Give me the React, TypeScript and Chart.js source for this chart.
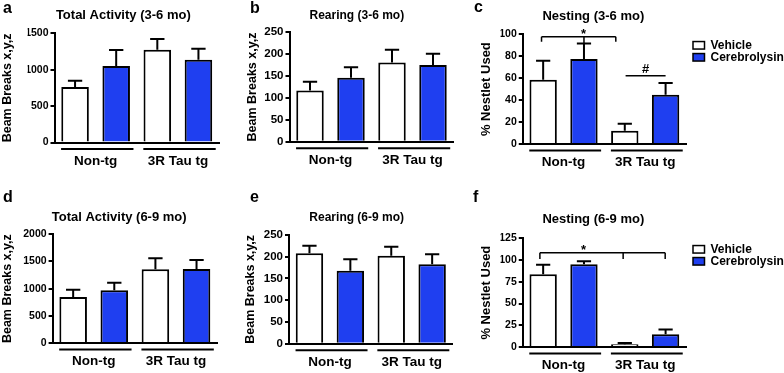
import React, { useEffect, useRef } from 'react';
import { Chart, registerables } from 'chart.js';

Chart.register(...registerables);

const FONT = "'Liberation Sans', Arial, Helvetica, sans-serif";
const BLUE = '#1f3ff0';

// ---------- data ----------
const groups = ['Non-tg', '3R Tau tg'];
const treatments = ['Vehicle', 'Cerebrolysin'];

// a: Total Activity (3-6 mo)
const activity36Vehicle = [761, 1275];
const activity36VehicleSem = [88, 147];
const activity36Cerebrolysin = [1050, 1138];
const activity36CerebrolysinSem = [221, 151];
const activity36Ticks = [0, 500, 1000, 1500];

// b: Rearing (3-6 mo)
const rearing36Vehicle = [117, 181];
const rearing36VehicleSem = [20, 29];
const rearing36Cerebrolysin = [146, 175];
const rearing36CerebrolysinSem = [24, 26];
const rearing36Ticks = [0, 50, 100, 150, 200, 250];

// c: Nesting (3-6 mo)
const nesting36Vehicle = [58.5, 12];
const nesting36VehicleSem = [17.5, 6.5];
const nesting36Cerebrolysin = [77.5, 45];
const nesting36CerebrolysinSem = [14, 10.7];
const nesting36Ticks = [0, 20, 40, 60, 80, 100];
const nesting36Marks = [
  { label: '*', level: 97.8, at: [-0.27, 0.25, 0.64], drops: [93.3, 91.4, 93.3], labelAt: 0.245 },
  { label: '#', level: 62.3, at: [0.76, 1.25], drops: [62.3, 62.3], labelAt: 1.005 },
];

// d: Total Activity (6-9 mo)
const activity69Vehicle = [847, 1356];
const activity69VehicleSem = [135, 202];
const activity69Cerebrolysin = [969, 1362];
const activity69CerebrolysinSem = [141, 166];
const activity69Ticks = [0, 500, 1000, 1500, 2000];

// e: Rearing (6-9 mo)
const rearing69Vehicle = [208, 202];
const rearing69VehicleSem = [17, 21];
const rearing69Cerebrolysin = [168, 182.5];
const rearing69CerebrolysinSem = [26, 23];
const rearing69Ticks = [0, 50, 100, 150, 200, 250];

// f: Nesting (6-9 mo)
const nesting69Vehicle = [83.6, 3.1];
const nesting69VehicleSem = [11, 1.5];
const nesting69Cerebrolysin = [95.1, 14.6];
const nesting69CerebrolysinSem = [3.5, 5.5];
const nesting69Ticks = [0, 25, 50, 75, 100, 125];
const nesting69Marks = [
  { label: '*', level: 108.4, at: [-0.29, 0.73, 1.245], drops: [101.2, 101.2, 101.2], labelAt: 0.245 },
];

// ---------- layout of the six panels ----------
type Mark = { label: string; level: number; at: number[]; drops: number[]; labelAt: number };
type PanelCfg = {
  letter: string; letterX: number; letterY: number;
  left: number; top: number; width: number; height: number;
  title: string; titleSize: number; titlePadTop: number; titlePadBottom: number;
  pl: number; pr: number; yWidth: number; xHeight: number;
  yTitle: string; yTitleSize: number; yTitlePad: number; yTickSize: number;
  ticks: number[];
  vehicle: number[]; vehicleSem: number[]; cerebrolysin: number[]; cerebrolysinSem: number[];
  marks?: Mark[]; legend?: boolean;
};

const panels: PanelCfg[] = [
  {
    letter: 'a', letterX: 3, letterY: 13, left: 0, top: 0, width: 240, height: 185,
    title: 'Total Activity (3-6 mo)', titleSize: 13, titlePadTop: 7.4, titlePadBottom: 10.3,
    pl: 27.6, pr: 21, yWidth: 26.9, xHeight: 42.5,
    yTitle: 'Beam Breaks x,y,z', yTitleSize: 12.5, yTitlePad: -27.1, yTickSize: 10.5,
    ticks: activity36Ticks,
    vehicle: activity36Vehicle, vehicleSem: activity36VehicleSem,
    cerebrolysin: activity36Cerebrolysin, cerebrolysinSem: activity36CerebrolysinSem,
  },
  {
    letter: 'b', letterX: 10, letterY: 13.3, left: 240, top: 0, width: 230, height: 185,
    title: 'Rearing (3-6 mo)', titleSize: 12, titlePadTop: 8.8, titlePadBottom: 9.1,
    pl: 20.1, pr: 16.5, yWidth: 29.4, xHeight: 43.3,
    yTitle: 'Beam Breaks x,y,z', yTitleSize: 12.5, yTitlePad: -15.3, yTickSize: 11.5,
    ticks: rearing36Ticks,
    vehicle: rearing36Vehicle, vehicleSem: rearing36VehicleSem,
    cerebrolysin: rearing36Cerebrolysin, cerebrolysinSem: rearing36CerebrolysinSem,
  },
  {
    letter: 'c', letterX: 4, letterY: 11.7, left: 470, top: 0, width: 314, height: 185,
    title: 'Nesting (3-6 mo)', titleSize: 13, titlePadTop: 9, titlePadBottom: 9.7,
    pl: 30.6, pr: 98, yWidth: 22.15, xHeight: 41,
    yTitle: '% Nestlet Used', yTitleSize: 13, yTitlePad: -21.7, yTickSize: 10.5,
    ticks: nesting36Ticks,
    vehicle: nesting36Vehicle, vehicleSem: nesting36VehicleSem,
    cerebrolysin: nesting36Cerebrolysin, cerebrolysinSem: nesting36CerebrolysinSem,
    marks: nesting36Marks, legend: true,
  },
  {
    letter: 'd', letterX: 3, letterY: 16.7, left: 0, top: 185, width: 240, height: 188,
    title: 'Total Activity (6-9 mo)', titleSize: 13, titlePadTop: 24.5, titlePadBottom: 9.2,
    pl: 21.3, pr: 22.9, yWidth: 31.3, xHeight: 30,
    yTitle: 'Beam Breaks x,y,z', yTitleSize: 12.5, yTitlePad: -20.8, yTickSize: 10.5,
    ticks: activity69Ticks,
    vehicle: activity69Vehicle, vehicleSem: activity69VehicleSem,
    cerebrolysin: activity69Cerebrolysin, cerebrolysinSem: activity69CerebrolysinSem,
  },
  {
    letter: 'e', letterX: 10, letterY: 17.3, left: 240, top: 185, width: 230, height: 188,
    title: 'Rearing (6-9 mo)', titleSize: 12, titlePadTop: 25.4, titlePadBottom: 10.2,
    pl: 20.8, pr: 17.4, yWidth: 28.2, xHeight: 29.3,
    yTitle: 'Beam Breaks x,y,z', yTitleSize: 12.5, yTitlePad: -17.5, yTickSize: 11.5,
    ticks: rearing69Ticks,
    vehicle: rearing69Vehicle, vehicleSem: rearing69VehicleSem,
    cerebrolysin: rearing69Cerebrolysin, cerebrolysinSem: rearing69CerebrolysinSem,
  },
  {
    letter: 'f', letterX: 3, letterY: 16.7, left: 470, top: 185, width: 314, height: 188,
    title: 'Nesting (6-9 mo)', titleSize: 13, titlePadTop: 27.1, titlePadBottom: 10.6,
    pl: 30.6, pr: 98, yWidth: 22.15, xHeight: 26,
    yTitle: '% Nestlet Used', yTitleSize: 13, yTitlePad: -21.7, yTickSize: 10.5,
    ticks: nesting69Ticks,
    vehicle: nesting69Vehicle, vehicleSem: nesting69VehicleSem,
    cerebrolysin: nesting69Cerebrolysin, cerebrolysinSem: nesting69CerebrolysinSem,
    marks: nesting69Marks, legend: true,
  },
];

function makeDecor(cfg: PanelCfg) {
  return {
    id: 'panelDecor',
    afterDatasetsDraw(chart: any) {
      const { ctx } = chart;
      const ys = chart.scales.y;
      ctx.save();
      ctx.strokeStyle = '#000';
      ctx.lineWidth = 2;
      chart.data.datasets.forEach((ds: any, i: number) => {
        const meta = chart.getDatasetMeta(i);
        meta.data.forEach((bar: any, j: number) => {
          const { x, y, width } = bar.getProps(['x', 'y', 'width'], true);
          const top = ys.getPixelForValue(ds.data[j] + ds.sem[j]);
          const half = width * 0.26;
          ctx.beginPath();
          ctx.moveTo(x, y);
          ctx.lineTo(x, top);
          ctx.moveTo(x - half, top);
          ctx.lineTo(x + half, top);
          ctx.stroke();
        });
      });
      ctx.restore();
    },
    afterDraw(chart: any) {
      const { ctx, chartArea: ca } = chart;
      const xs = chart.scales.x;
      const ys = chart.scales.y;
      ctx.save();
      // panel letter
      ctx.fillStyle = '#000';
      ctx.font = `bold 16px ${FONT}`;
      ctx.textAlign = 'left';
      ctx.textBaseline = 'alphabetic';
      ctx.fillText(cfg.letter, cfg.letterX, cfg.letterY);
      // group underlines
      ctx.strokeStyle = '#000';
      ctx.lineWidth = 2;
      const gy = ca.bottom + 6.5;
      groups.forEach((_, i) => {
        ctx.beginPath();
        ctx.moveTo(xs.getPixelForValue(i - 0.42), gy);
        ctx.lineTo(xs.getPixelForValue(i + 0.46), gy);
        ctx.stroke();
      });
      // significance marks
      (cfg.marks || []).forEach((m) => {
        const ly = ys.getPixelForValue(m.level);
        const x1 = xs.getPixelForValue(m.at[0]);
        const x2 = xs.getPixelForValue(m.at[m.at.length - 1]);
        ctx.lineWidth = 1.5;
        ctx.beginPath();
        ctx.moveTo(x1, ly);
        ctx.lineTo(x2, ly);
        m.at.forEach((a, k) => {
          const px = xs.getPixelForValue(a);
          const py = ys.getPixelForValue(m.drops[k]);
          if (Math.abs(py - ly) > 0.5) {
            ctx.moveTo(px, ly);
            ctx.lineTo(px, py);
          }
        });
        ctx.stroke();
        ctx.font = `bold 13px ${FONT}`;
        ctx.textAlign = 'center';
        ctx.textBaseline = 'alphabetic';
        ctx.fillText(m.label, xs.getPixelForValue(m.labelAt), ly + (m.label === '*' ? 1.5 : -3));
      });
      // legend
      if (cfg.legend) {
        const bx = ca.right + 7;
        let yc = ca.top + 11;
        ctx.font = `bold 12px ${FONT}`;
        ctx.textAlign = 'left';
        ctx.textBaseline = 'middle';
        chart.data.datasets.forEach((ds: any) => {
          ctx.fillStyle = ds.backgroundColor;
          ctx.fillRect(bx, yc - 3.75, 11.5, 7.5);
          ctx.lineWidth = 1.5;
          ctx.strokeStyle = '#000';
          ctx.strokeRect(bx, yc - 3.75, 11.5, 7.5);
          ctx.fillStyle = '#000';
          ctx.fillText(ds.label, bx + 17.5, yc + 0.5);
          yc += 12;
        });
      }
      ctx.restore();
    },
  };
}

function Panel({ cfg }: { cfg: PanelCfg }) {
  const ref = useRef<HTMLCanvasElement>(null);
  useEffect(() => {
    const barCommon = {
      borderColor: '#000',
      borderWidth: 2,
      borderSkipped: 'start',
      categoryPercentage: 1,
      barPercentage: 0.67,
    };
    const chart = new Chart(ref.current as HTMLCanvasElement, {
      type: 'bar',
      data: {
        labels: groups,
        datasets: [
          { label: treatments[0], data: cfg.vehicle, sem: cfg.vehicleSem, backgroundColor: '#ffffff', ...barCommon } as any,
          { label: treatments[1], data: cfg.cerebrolysin, sem: cfg.cerebrolysinSem, backgroundColor: BLUE, ...barCommon } as any,
        ],
      },
      options: {
        responsive: false,
        animation: false,
        events: [],
        devicePixelRatio: 1,
        layout: { padding: { left: cfg.pl, right: cfg.pr, top: 0, bottom: 0 } },
        plugins: {
          legend: { display: false },
          tooltip: { enabled: false },
          title: {
            display: true,
            text: cfg.title,
            color: '#000',
            font: { family: FONT, size: cfg.titleSize, weight: 'bold' },
            padding: { top: cfg.titlePadTop, bottom: cfg.titlePadBottom },
          },
        },
        scales: {
          x: {
            type: 'category',
            grid: { display: false, drawTicks: false },
            border: { display: true, color: '#000', width: 2 },
            ticks: { color: '#000', padding: 10.5, font: { family: FONT, size: 13.5, weight: 'bold' } },
            afterFit: (s: any) => { s.height = cfg.xHeight; },
          },
          y: {
            type: 'linear',
            min: 0,
            max: cfg.ticks[cfg.ticks.length - 1],
            afterBuildTicks: (s: any) => { s.ticks = cfg.ticks.map((v) => ({ value: v })); },
            ticks: {
              color: '#000',
              padding: 2,
              font: { family: FONT, size: cfg.yTickSize, weight: 'bold' },
              callback: (v: any) => String(v),
            },
            grid: { drawOnChartArea: false, drawTicks: true, tickLength: 4, color: '#000', lineWidth: 2 },
            border: { display: true, color: '#000', width: 2 },
            title: {
              display: true,
              text: cfg.yTitle,
              color: '#000',
              font: { family: FONT, size: cfg.yTitleSize, weight: 'bold' },
              padding: { top: cfg.yTitlePad, bottom: 0 },
            },
            afterFit: (s: any) => { s.width = cfg.yWidth; },
          },
        },
      } as any,
      plugins: [makeDecor(cfg)],
    });
    return () => chart.destroy();
  }, [cfg]);
  return (
    <canvas
      ref={ref}
      width={cfg.width}
      height={cfg.height}
      style={{ position: 'absolute', left: cfg.left, top: cfg.top, width: cfg.width, height: cfg.height }}
    />
  );
}

export default function App() {
  return (
    <div style={{ position: 'absolute', left: 0, top: 0, width: 784, height: 373, background: '#fff', overflow: 'hidden' }}>
      {panels.map((p) => (
        <Panel key={p.letter} cfg={p} />
      ))}
    </div>
  );
}
